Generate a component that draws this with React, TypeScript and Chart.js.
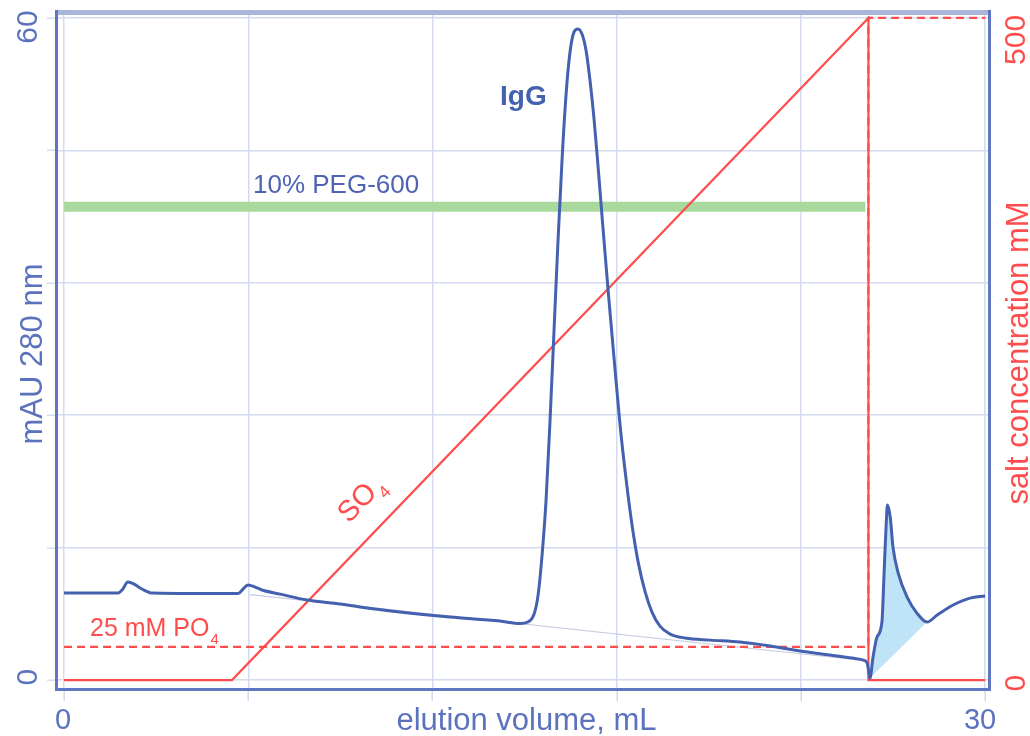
import React, { useEffect, useRef } from "react";
import { Chart, registerables } from "chart.js";

Chart.register(...registerables);

// ---------- data ----------
const uvVolume = [0, 1.17, 1.76, 1.89, 2.08, 2.28, 2.54, 2.87, 4.43, 5.67, 5.83, 5.99, 6.22, 6.45, 7.04, 7.92, 8.99, 9.64, 10.94, 12.57, 14.2, 14.85, 15.11, 15.31, 15.44, 15.57, 15.7, 15.83, 15.96, 16.09, 16.22, 16.35, 16.48, 16.61, 16.74, 16.87, 17.0, 17.13, 17.26, 17.39, 17.52, 17.72, 17.92, 18.11, 18.31, 18.5, 18.7, 18.93, 19.15, 19.41, 19.74, 20.23, 21.04, 22.02, 23.0, 23.97, 24.95, 25.77, 26.03, 26.16, 26.25, 26.35, 26.48, 26.64, 26.71, 26.78, 26.82, 26.91, 27.0, 27.17, 27.46, 27.78, 28.11, 28.44, 28.96, 29.51, 30.0];
const uvAbsorbance = [7.88, 7.88, 7.88, 8.16, 8.88, 8.7, 8.25, 7.88, 7.84, 7.84, 8.25, 8.61, 8.43, 8.16, 7.79, 7.25, 6.89, 6.62, 6.16, 5.71, 5.35, 5.12, 5.26, 5.98, 7.7, 11.33, 16.31, 23.56, 31.72, 39.87, 47.12, 53.01, 56.91, 58.72, 59.0, 58.54, 57.09, 54.37, 50.93, 46.67, 42.14, 35.34, 29.0, 23.11, 18.12, 14.05, 10.69, 7.97, 6.16, 4.89, 4.17, 3.81, 3.62, 3.44, 3.08, 2.63, 2.27, 1.95, 1.81, 1.54, 0.18, 2.08, 3.9, 5.26, 9.7, 14.23, 15.86, 14.77, 12.05, 9.7, 7.52, 6.07, 5.26, 5.89, 6.8, 7.43, 7.61];

const shadedFrom = 26.25;
const shadedTo = 28.11;

const igBaselineVolume = [6.06, 26.1];
const igBaselineAbsorbance = [7.75, 1.75];

const so4Volume = [0, 5.47, 26.2, 26.2, 30];
const so4Conc = [0, 0, 500, 0, 0];

const po4Volume = [0, 26.2, 26.2, 30];
const po4Conc = [25, 25, 500, 500];

const pegVolume = [0, 26.1];
const pegLevel = [42.9, 42.9];

const xTicks = [0, 6, 12, 18, 24, 30];
const xTickLabels = ["0", "", "", "", "", "30"];
const yTicks = [0, 12, 24, 36, 48, 60];
const yTickLabels = ["0", "", "", "", "", "60"];
const y2Ticks = [0, 500];
const y2TickLabels = ["0", "500"];

// ---------- styles ----------
const BLUE = "#4461b0";
const BLUE_TEXT = "#5b72bd";
const PEG_TEXT = "#4e63b3";
const RED = "#ff4d4d";
const GREEN = "#a9d99d";
const FILL = "#bfe4f8";
const GRID = "#d4daef";
const FRAME = "#5f77c3";
const FRAME_TOP = "#aab5da";
const FONT = '"Liberation Sans", Arial, Helvetica, sans-serif';

function pts(xs: number[], ys: number[]) {
  return xs.map((x, i) => ({ x, y: ys[i] }));
}

function drawText(
  ctx: CanvasRenderingContext2D,
  s: string,
  x: number,
  y: number,
  o: { size: number; color: string; bold?: boolean; rot?: number; align?: CanvasTextAlign; base?: CanvasTextBaseline }
) {
  ctx.save();
  ctx.translate(x, y);
  if (o.rot) ctx.rotate(o.rot);
  ctx.font = `${o.bold ? "bold " : ""}${o.size}px ${FONT}`;
  ctx.fillStyle = o.color;
  ctx.textAlign = o.align || "center";
  ctx.textBaseline = o.base || "middle";
  ctx.fillText(s, 0, 0);
  ctx.restore();
}

function drawSubText(
  ctx: CanvasRenderingContext2D,
  main: string,
  sub: string,
  x: number,
  y: number,
  o: { size: number; color: string; rot?: number }
) {
  ctx.save();
  ctx.translate(x, y);
  if (o.rot) ctx.rotate(o.rot);
  ctx.fillStyle = o.color;
  ctx.textAlign = "left";
  ctx.textBaseline = "alphabetic";
  ctx.font = `${o.size}px ${FONT}`;
  ctx.fillText(main, 0, 0);
  const w = ctx.measureText(main).width;
  ctx.font = `${Math.round(o.size * 0.6)}px ${FONT}`;
  ctx.fillText(sub, w + 1, o.size * 0.3);
  ctx.restore();
}

const decorPlugin = {
  id: "decor",
  afterDraw(chart: any) {
    const { ctx, chartArea: a, scales } = chart;
    const xs = scales.x;
    const ys = scales.y;
    const y2 = scales.y2;
    ctx.save();

    // outward tick marks
    ctx.strokeStyle = GRID;
    ctx.lineWidth = 1.5;
    yTicks.forEach((v) => {
      const py = Math.round(ys.getPixelForValue(v)) + 0.25;
      ctx.beginPath();
      ctx.moveTo(a.left - 10, py);
      ctx.lineTo(a.left, py);
      ctx.stroke();
    });
    xTicks.forEach((v) => {
      const px = Math.round(xs.getPixelForValue(v)) + 0.25;
      ctx.beginPath();
      ctx.moveTo(px, a.bottom);
      ctx.lineTo(px, a.bottom + 11);
      ctx.stroke();
    });

    // frame
    ctx.fillStyle = FRAME_TOP;
    ctx.fillRect(a.left - 2, a.top - 2, a.right - a.left + 3, 5);
    ctx.fillStyle = FRAME;
    ctx.fillRect(a.left - 2, a.top - 2, 3, a.bottom - a.top + 3);
    ctx.fillRect(a.left - 2, a.bottom - 2, a.right - a.left + 3, 3);
    ctx.fillRect(a.right - 2, a.top - 2, 3, a.bottom - a.top + 3);

    // tick labels
    xTicks.forEach((v, i) => {
      const lab = xTickLabels[i];
      if (!lab) return;
      const off = i === xTicks.length - 1 ? -5 : -1;
      drawText(ctx, lab, xs.getPixelForValue(v) + off, a.bottom + 31, { size: 29, color: BLUE_TEXT });
    });
    yTicks.forEach((v, i) => {
      const lab = yTickLabels[i];
      if (!lab) return;
      const off = i === yTicks.length - 1 ? 9 : -3;
      drawText(ctx, lab, 29, ys.getPixelForValue(v) + off, { size: 30, color: BLUE_TEXT, rot: -Math.PI / 2 });
    });
    y2Ticks.forEach((v, i) => {
      const lab = y2TickLabels[i];
      const off = i === y2Ticks.length - 1 ? 22 : 3;
      drawText(ctx, lab, 1017, y2.getPixelForValue(v) + off, { size: 30, color: RED, rot: -Math.PI / 2 });
    });

    // axis titles
    drawText(ctx, "elution volume, mL", (a.left + a.right) / 2 + 3, a.bottom + 31, { size: 31, color: BLUE_TEXT });
    drawText(ctx, "mAU 280 nm", 33, (a.top + a.bottom) / 2 + 3, { size: 31, color: BLUE_TEXT, rot: -Math.PI / 2 });
    drawText(ctx, "salt concentration mM", 1019, (a.top + a.bottom) / 2 + 2, { size: 31, color: RED, rot: -Math.PI / 2 });

    // annotations
    drawText(ctx, "IgG", 500, 105, { size: 28, color: BLUE, bold: true, align: "left", base: "alphabetic" });
    drawText(ctx, "10% PEG-600", 253, 193, { size: 26, color: PEG_TEXT, align: "left", base: "alphabetic" });
    drawSubText(ctx, "25 mM PO", "4", 90, 636, { size: 25, color: RED });
    drawSubText(ctx, "SO", "4", 349, 524, { size: 29, color: RED, rot: -0.8 });

    ctx.restore();
  },
};

export default function App() {
  const ref = useRef<HTMLCanvasElement | null>(null);

  useEffect(() => {
    if (!ref.current) return;
    const shadedVolume = uvVolume.filter((v) => v >= shadedFrom && v <= shadedTo);
    const shadedAbs = uvAbsorbance.filter((_, i) => uvVolume[i] >= shadedFrom && uvVolume[i] <= shadedTo);

    const chart = new Chart(ref.current, {
      type: "line",
      data: {
        datasets: [
          {
            label: "UV 280",
            data: pts(uvVolume, uvAbsorbance),
            yAxisID: "y",
            borderColor: BLUE,
            borderWidth: 3,
            pointRadius: 0,
            cubicInterpolationMode: "monotone",
            fill: false,
            order: 0,
          },
          {
            label: "SO4",
            data: pts(so4Volume, so4Conc),
            yAxisID: "y2",
            borderColor: RED,
            borderWidth: 2.2,
            pointRadius: 0,
            tension: 0,
            fill: false,
            order: 1,
          },
          {
            label: "PO4",
            data: pts(po4Volume, po4Conc),
            yAxisID: "y2",
            borderColor: RED,
            borderWidth: 2.2,
            borderDash: [8, 5],
            pointRadius: 0,
            tension: 0,
            fill: false,
            order: 2,
          },
          {
            label: "shaded",
            data: pts(shadedVolume, shadedAbs),
            yAxisID: "y",
            borderWidth: 0,
            borderColor: "rgba(0,0,0,0)",
            backgroundColor: FILL,
            pointRadius: 0,
            cubicInterpolationMode: "monotone",
            fill: "shape",
            order: 3,
          },
          {
            label: "baseline",
            data: pts(igBaselineVolume, igBaselineAbsorbance),
            yAxisID: "y",
            borderColor: "#c6cce2",
            borderWidth: 1.2,
            pointRadius: 0,
            fill: false,
            order: 4,
          },
          {
            label: "PEG",
            data: pts(pegVolume, pegLevel),
            yAxisID: "y",
            borderColor: GREEN,
            borderWidth: 10,
            borderCapStyle: "butt",
            pointRadius: 0,
            fill: false,
            order: 5,
          },
        ] as any,
      },
      options: {
        responsive: false,
        animation: false,
        devicePixelRatio: 1,
        layout: { padding: { left: 57, top: 12, right: 40, bottom: 46 } },
        plugins: { legend: { display: false }, tooltip: { enabled: false } },
        scales: {
          x: {
            type: "linear",
            min: -0.23,
            max: 30.16,
            afterBuildTicks: (s: any) => {
              s.ticks = xTicks.map((v) => ({ value: v }));
            },
            grid: { color: GRID, lineWidth: 1.5, drawTicks: false },
            border: { display: false },
            ticks: { display: false },
          },
          y: {
            type: "linear",
            position: "left",
            min: -0.9,
            max: 60.54,
            afterBuildTicks: (s: any) => {
              s.ticks = yTicks.map((v) => ({ value: v }));
            },
            grid: { color: GRID, lineWidth: 1.5, drawTicks: false },
            border: { display: false },
            ticks: { display: false },
          },
          y2: {
            type: "linear",
            position: "right",
            min: -7.5,
            max: 504.5,
            display: false,
          },
        },
      } as any,
      plugins: [decorPlugin],
    });
    return () => chart.destroy();
  }, []);

  return (
    <div style={{ position: "absolute", left: 0, top: 0, width: 1030, height: 736, background: "#fff" }}>
      <canvas ref={ref} width={1030} height={736} style={{ display: "block" }} />
    </div>
  );
}
